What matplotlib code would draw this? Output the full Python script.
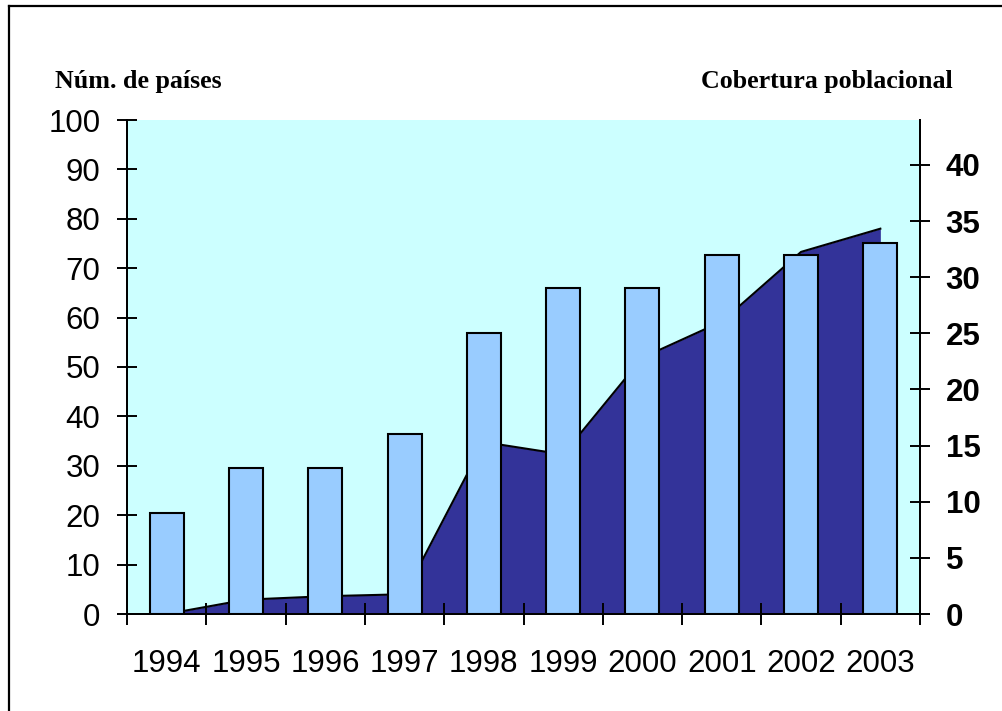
#!/usr/bin/env python3
"""Países y cobertura poblacional, 1994-2003 (barras + área)."""

import matplotlib
matplotlib.use("Agg")
import matplotlib.pyplot as plt
from matplotlib.lines import Line2D

years = ["1994", "1995", "1996", "1997", "1998",
         "1999", "2000", "2001", "2002", "2003"]
# barras, eje derecho
paises = [9, 13, 13, 16, 25, 29, 29, 32, 32, 33]
# área, eje izquierdo
cobertura = [0, 2.9, 3.6, 4.0, 34.8, 32.3, 51.9, 59.2, 73.3, 78.0]

left_ticks = list(range(0, 101, 10))
right_ticks = list(range(0, 41, 5))

SANS = "Liberation Sans"
SERIF = "Liberation Serif"

W, H = 1003, 711
fig = plt.figure(figsize=(W / 100, H / 100), dpi=100)
fig.patch.set_facecolor("white")

# marco exterior
fig.add_artist(Line2D([9 / W, 9 / W], [0, 1 - 6 / H], color="black", lw=1.6))
fig.add_artist(Line2D([9 / W, 1], [1 - 6 / H, 1 - 6 / H], color="black", lw=1.6))

ax = fig.add_axes([127 / W, 1 - 614 / H, (920 - 127) / W, (614 - 120) / H])
ax.set_facecolor("#CCFFFF")
x = list(range(len(years)))
ax.fill_between(x, cobertura, 0, color="#333399", linewidth=0)
ax.plot(x, cobertura, color="black", lw=1.5)
ax.set_xlim(-0.5, len(years) - 0.5)
ax.set_ylim(0, 100)
ax.set_yticks(left_ticks)
ax.set_yticklabels([str(v) for v in left_ticks], fontfamily=SANS, fontsize=22.5)
ax.tick_params(axis="y", direction="inout", length=14.5, width=1.4, pad=12)

ax.set_xticks([i - 0.5 for i in range(len(years) + 1)])
ax.set_xticklabels([])
ax.set_xticks(x, minor=True)
ax.set_xticklabels(years, minor=True, fontfamily=SANS, fontsize=22.5)
ax.tick_params(axis="x", which="major", direction="inout", length=15.5, width=1.4)
ax.tick_params(axis="x", which="minor", length=0, pad=25)

ax2 = ax.twinx()
ax2.bar(x, paises, width=0.43, color="#99CCFF", edgecolor="black", linewidth=1.5)
ax2.set_ylim(0, 44)
ax2.set_yticks(right_ticks)
ax2.set_yticklabels([str(v) for v in right_ticks], fontfamily=SANS,
                    fontsize=22.5, fontweight="bold")
ax2.tick_params(axis="y", direction="inout", length=15, width=1.4, pad=11)

for a in (ax, ax2):
    a.spines["top"].set_visible(False)
    for s in ("left", "right", "bottom"):
        a.spines[s].set_linewidth(1.4)
        a.spines[s].set_color("black")

fig.text(55 / W, 1 - 88 / H, "Núm. de países", fontfamily=SERIF,
         fontweight="bold", fontsize=18.7, ha="left", va="baseline")
fig.text(953 / W, 1 - 88 / H, "Cobertura poblacional", fontfamily=SERIF,
         fontweight="bold", fontsize=18.7, ha="right", va="baseline")

fig.savefig("out.png", dpi=100, facecolor="white")
